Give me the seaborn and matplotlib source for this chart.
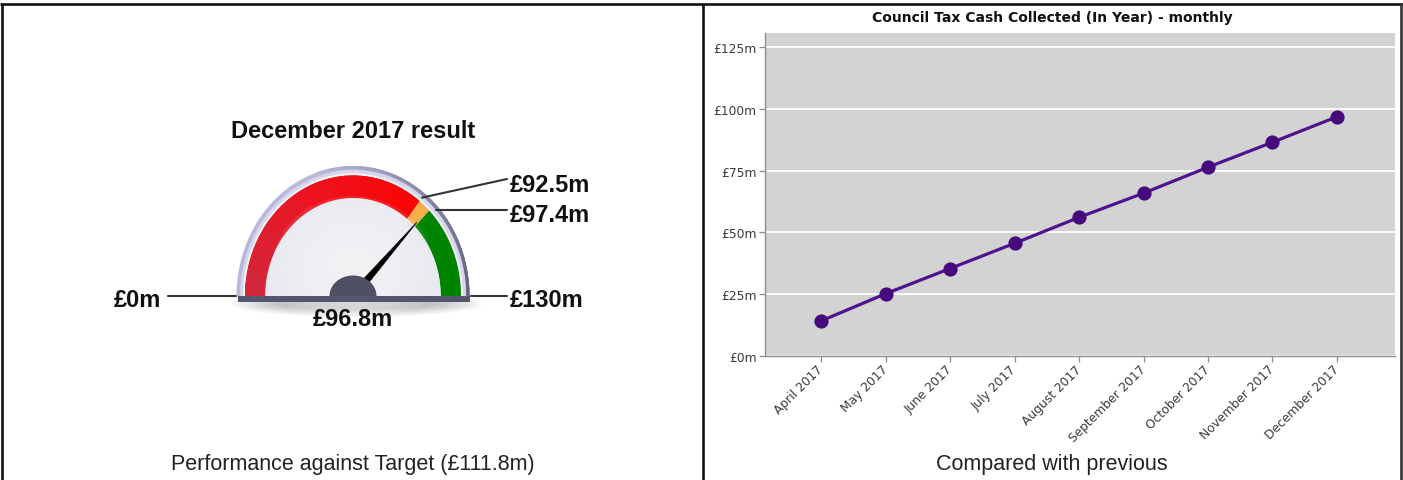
import numpy as np
import pandas as pd
import matplotlib
matplotlib.use("Agg")
import matplotlib.pyplot as plt
import matplotlib.colors as mcolors
from matplotlib.patches import Polygon, Rectangle, Ellipse
import seaborn as sns

# ---- data ----
months = ["April 2017", "May 2017", "June 2017", "July 2017", "August 2017",
          "September 2017", "October 2017", "November 2017", "December 2017"]
collected = [14.2, 25.2, 35.4, 45.6, 56.1, 65.9, 76.4, 86.5, 96.8]
y_ticks = [0, 25, 50, 75, 100, 125]
y_tick_labels = ["£0m", "£25m", "£50m", "£75m", "£100m", "£125m"]

gauge_min = 0.0
gauge_max = 130.0
amber_from = 92.5
green_from = 97.4
current = 96.8
target = 111.8
period = "December 2017"

chart_title = "Council Tax Cash Collected (In Year) - monthly"
left_caption = f"Performance against Target (£{target}m)"
right_caption = "Compared with previous"

# ---- style ----
sns.set_theme(style="whitegrid")
plt.rcParams["font.family"] = ["Liberation Sans", "DejaVu Sans"]

W, H = 1403, 481
fig = plt.figure(figsize=(W / 100, H / 100), dpi=100)
fig.patch.set_facecolor("white")

# full-figure layer in pixel units for the panel frame and the gauge
bg = fig.add_axes([0, 0, 1, 1])
bg.set_xlim(0, W)
bg.set_ylim(H, 0)
bg.axis("off")

# panel frame
frame_kw = dict(color="#111111", lw=1.9, solid_capstyle="butt")
bg.plot([0, W], [5, 5], **frame_kw)
bg.plot([2, 2], [5, H], **frame_kw)
bg.plot([702.8, 702.8], [5, H], **frame_kw)
bg.plot([1401.3, 1401.3], [5, H], color="#333333", lw=1.9)

# ---- gauge ----
cx, cy, k = 353.0, 297.0, 1.116


def ang(v):
    return np.pi * (1 - (v - gauge_min) / (gauge_max - gauge_min))


def arc(r, a0, a1, n=90):
    t = np.linspace(a0, a1, n)
    return np.column_stack([cx + r * np.cos(t), cy - r * k * np.sin(t)])


def ring(r_in, r_out, a0, a1, **kw):
    if r_in <= 0:
        pts = np.vstack([arc(r_out, a0, a1), [[cx, cy]]])
    else:
        pts = np.vstack([arc(r_out, a0, a1), arc(r_in, a1, a0)])
    bg.add_patch(Polygon(pts, closed=True, **kw))


# soft drop shadow below the dial
for i in range(7):
    bg.add_patch(Ellipse((cx + 4, 305), 250 - i * 14, 26 - i * 2.5,
                         fc="#000000", ec="none", alpha=0.035, zorder=1))

# bezel: lavender rim shading to slate on the right
ring(0, 116.5, np.pi, 0, fc="#b8b8da", ec="none", zorder=2)
rim_cmap = mcolors.LinearSegmentedColormap.from_list("rim", ["#b8b8da", "#8a8aa6", "#62627c"])
rim_edges = np.linspace(1.9, 0, 31)
ring(113.5, 116.5, 0.9, 0, fc="#62627c", ec="none", zorder=2.05)
for i in range(30):
    c = rim_cmap(i / 29)
    ring(113.5, 116.5, rim_edges[i], rim_edges[i + 1] - 0.01, fc=c, ec="none", zorder=2.1)
ring(0, 113.0, np.pi, 0, fc="#d6d6ea", ec="none", zorder=2.2)
ring(0, 110.0, np.pi, 0, fc="#f4f4f8", ec="none", zorder=2.3)

# colour bands
band_in, band_out = 87.5, 108.0
a_amber, a_green = ang(amber_from), ang(green_from)
red_cmap = mcolors.LinearSegmentedColormap.from_list("dial_red", ["#d2283c", "#ec1420", "#fb0404"])
ring(band_in, band_out, np.pi, a_amber, fc="#ec1420", ec="none", zorder=2.9)
n_seg = 45
edges = np.linspace(np.pi, a_amber, n_seg + 1)
for i in range(n_seg):
    c = red_cmap(i / (n_seg - 1))
    a_end = edges[i + 1] - 0.01 if i < n_seg - 1 else edges[i + 1]
    ring(band_in, band_out, edges[i], a_end, fc=c, ec="none", zorder=3)
ring(band_in, band_out, a_amber, a_green, fc="#f6ae48", ec="none", zorder=3)
ring(band_in, band_out, a_green, 0, fc="#008400", ec="none", zorder=3)

# dial face with a soft highlight toward the lower centre
ring(0, band_in + 0.3, np.pi, 0, fc="#e9e9f0", ec="none", zorder=3.05)
for i in range(8):
    bg.add_patch(Ellipse((cx, cy - 30), 160 - i * 16, 140 - i * 14,
                         fc="white", ec="none", alpha=0.09, zorder=3.1))

# needle
a_cur = ang(current)
tip = np.array([cx + 92 * np.cos(a_cur), cy - 92 * k * np.sin(a_cur)])
d = tip - np.array([cx, cy])
d /= np.linalg.norm(d)
p = np.array([-d[1], d[0]])
needle = np.array([[cx, cy] + 4.0 * p, tip, [cx, cy] - 4.0 * p])
bg.add_patch(Polygon(needle, closed=True, fc="black", ec="black", lw=0.5, zorder=5))

# base bar
bg.add_patch(Rectangle((237.5, 296.5), 232, 6.5, fc="#55556e", ec="none", zorder=5.5))

# hub
t = np.linspace(np.pi, 0, 60)
hub = np.column_stack([cx + 23.5 * np.cos(t), cy - 20.5 * np.sin(t)])
bg.add_patch(Polygon(hub, closed=True, fc="#4e4e64", ec="none", zorder=6))

# leader lines and labels
lead_kw = dict(color="#333333", lw=1.5, zorder=4)
lbl_kw = dict(fontsize=17, fontweight="bold", color="#111111", va="center")


def rim_point(v, r=116.5):
    a = ang(v)
    return cx + r * np.cos(a), cy - r * k * np.sin(a)


x0, y0 = rim_point(amber_from, 112)
bg.plot([x0, 507], [y0, 180], **lead_kw)
bg.text(510, 186, f"£{amber_from:g}m", ha="left", **lbl_kw)

x0, y0 = rim_point(green_from, 117)
bg.plot([x0, 507], [211, 211], **lead_kw)
bg.text(510, 216, f"£{green_from:g}m", ha="left", **lbl_kw)

bg.plot([168, 236], [297, 297], **lead_kw)
bg.text(161, 301, f"£{gauge_min:g}m", ha="right", **lbl_kw)

bg.plot([471, 507], [297, 297], **lead_kw)
bg.text(510, 301, f"£{gauge_max:g}m", ha="left", **lbl_kw)

bg.text(cx, 320, f"£{current:g}m", ha="center", zorder=7, **lbl_kw)
bg.text(cx, 132, f"{period} result", ha="center", **lbl_kw)

# captions
cap_kw = dict(fontsize=15.5, color="#222222", ha="center", va="center")
bg.text(352.5, 465, left_caption, **cap_kw)
bg.text(1052, 465, right_caption, **cap_kw)

# ---- monthly line chart ----
df = pd.DataFrame({"month": months, "collected": collected})
ax = fig.add_axes([765 / W, 1 - 357 / H, 630 / W, 323 / H])
sns.pointplot(data=df, x="month", y="collected", ax=ax, errorbar=None,
              color="#50138e", markers="o", markersize=8.5, linewidth=2.3,
              markerfacecolor="#470a7c", markeredgecolor="#470a7c")
ax.set_facecolor("#d3d3d3")
ax.set_xlim(-0.87, 8.9)
ax.set_ylim(0, 130.7)
ax.set_yticks(y_ticks)
ax.set_yticklabels(y_tick_labels)
ax.grid(axis="y", color="white", lw=1.3)
ax.grid(axis="x", visible=False)
ax.set_axisbelow(True)
for side in ("top", "right"):
    ax.spines[side].set_visible(False)
for side in ("left", "bottom"):
    ax.spines[side].set_color("#8c8c8c")
    ax.spines[side].set_linewidth(1.0)
ax.tick_params(axis="both", which="major", length=4, width=0.9, color="#8c8c8c",
               labelsize=8.8, labelcolor="#3a3a3a", pad=2, left=True, bottom=True)
ax.tick_params(axis="x", pad=4)
plt.setp(ax.get_xticklabels(), rotation=45, ha="right", va="center",
         rotation_mode="anchor", family="DejaVu Sans")
plt.setp(ax.get_yticklabels(), family="DejaVu Sans")
ax.set_xlabel("")
ax.set_ylabel("")

bg.text(1052, 18, chart_title, ha="center", va="center", fontsize=10,
        fontweight="bold", family="DejaVu Sans", color="#111111")

fig.savefig("out.png", dpi=100)
